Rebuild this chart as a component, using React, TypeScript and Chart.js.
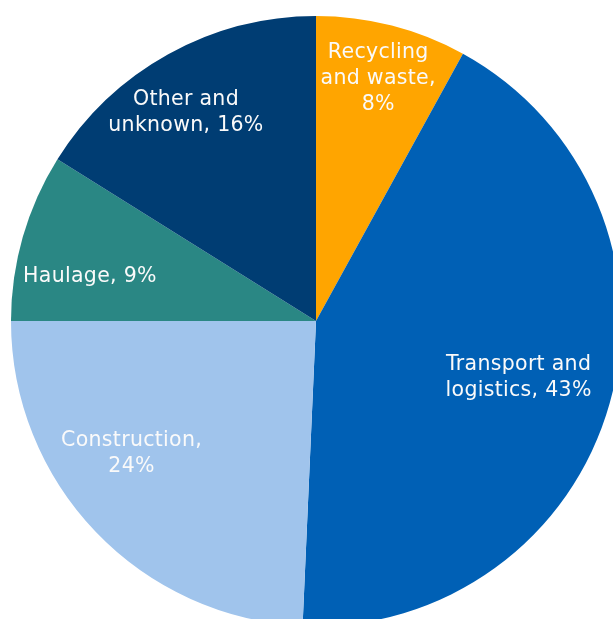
import React, { useEffect, useRef } from "react";
import { Chart, registerables } from "chart.js";

Chart.register(...registerables);

const categories = [
  "Recycling and waste",
  "Transport and logistics",
  "Construction",
  "Haulage",
  "Other and unknown",
];
const shares = [8.0, 42.7, 24.3, 8.9, 16.1];
const colors = ["#FFA500", "#0060B5", "#A0C4EC", "#2A8784", "#003D73"];
// label line templates; {p} is replaced by the rounded share
const labelTemplates = [
  ["Recycling", "and waste,", "{p}%"],
  ["Transport and", "logistics, {p}%"],
  ["Construction,", "{p}%"],
  ["Haulage, {p}%"],
  ["Other and", "unknown, {p}%"],
];
const labelRadius = [0.82, 0.69, 0.745, 0.755, 0.805];
const labelShiftDeg = [0, 0, 8, -5, -3];

const labelPlugin = {
  id: "sliceLabels",
  afterDatasetsDraw(chart: any) {
    const ctx = chart.ctx;
    const meta = chart.getDatasetMeta(0);
    ctx.save();
    ctx.font = "20.5px 'DejaVu Sans', Verdana, sans-serif";
    try {
      (ctx as any).letterSpacing = "0.3px";
    } catch (e) {}
    ctx.fillStyle = "#FAFAFA";
    ctx.textAlign = "center";
    ctx.textBaseline = "middle";
    const lh = 26;
    meta.data.forEach((arc: any, i: number) => {
      const p = arc.getProps(["x", "y", "startAngle", "endAngle", "outerRadius"], true);
      const mid = (p.startAngle + p.endAngle) / 2 + (labelShiftDeg[i] * Math.PI) / 180;
      const r = p.outerRadius * labelRadius[i];
      const cx = p.x + r * Math.cos(mid);
      const cy = p.y + r * Math.sin(mid);
      const pct = String(Math.round(shares[i]));
      const lines = labelTemplates[i].map((t) => t.replace("{p}", pct));
      const y0 = cy - ((lines.length - 1) * lh) / 2;
      lines.forEach((ln, k) => ctx.fillText(ln, cx, y0 + k * lh));
    });
    ctx.restore();
  },
};

export default function App() {
  const ref = useRef<HTMLCanvasElement | null>(null);
  useEffect(() => {
    if (!ref.current) return;
    const chart = new Chart(ref.current, {
      type: "pie",
      data: {
        labels: categories,
        datasets: [
          {
            data: shares,
            backgroundColor: colors,
            borderWidth: 0,
          },
        ],
      },
      options: {
        responsive: false,
        animation: false,
        layout: { padding: { left: 11, top: 16, right: 19, bottom: 24 } },
        plugins: {
          legend: { display: false },
          tooltip: { enabled: false },
        },
      },
      plugins: [labelPlugin],
    });
    return () => chart.destroy();
  }, []);
  return (
    <div
      style={{
        position: "fixed",
        left: 0,
        top: 0,
        width: 613,
        height: 619,
        overflow: "hidden",
        background: "#FFFFFF",
      }}
    >
      <canvas ref={ref} width={640} height={650} style={{ width: 640, height: 650, display: "block" }} />
    </div>
  );
}
